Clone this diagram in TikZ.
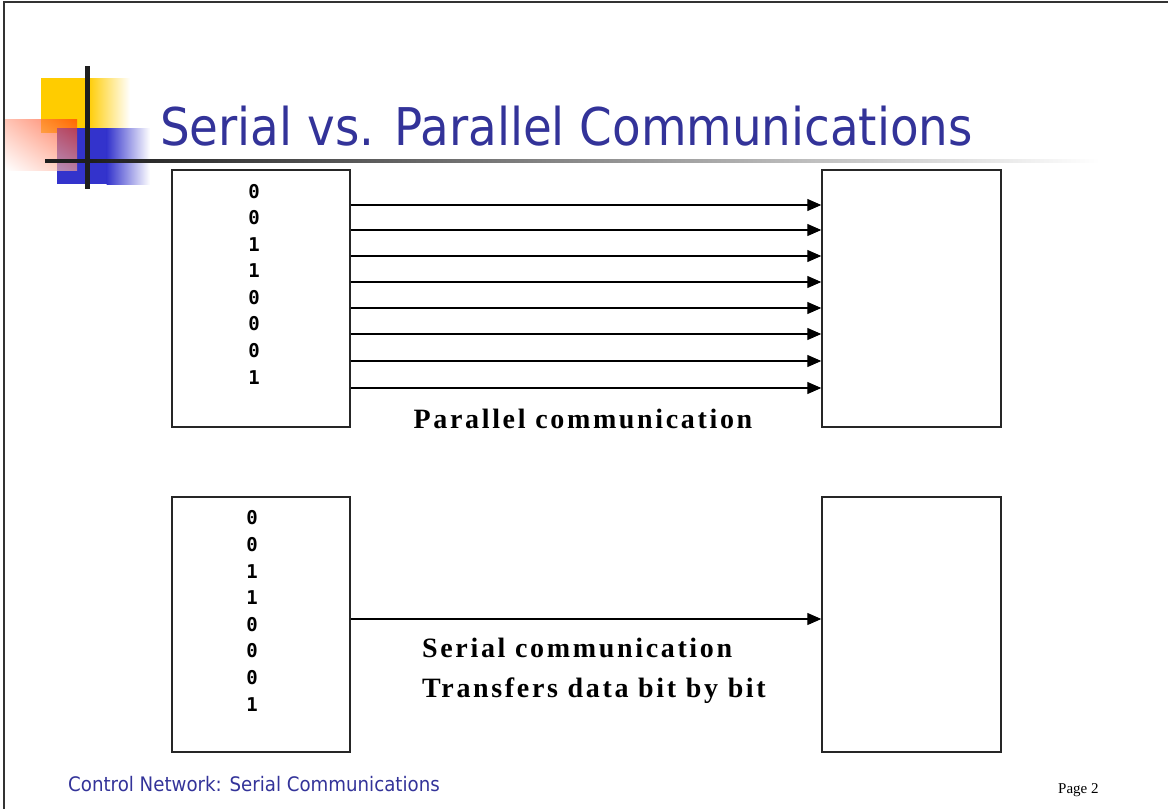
\documentclass[tikz,border=0pt]{standalone}
\usepackage{fontspec}
\setmainfont{DejaVu Sans}
\newfontfamily\labelfont[LetterSpace=9.5]{Liberation Serif}
\newfontfamily\digitfont{DejaVu Sans Mono}
\newfontfamily\timesfont{Liberation Serif}
\usetikzlibrary{arrows.meta,shadings}
\definecolor{titleblue}{HTML}{333399}
\definecolor{logoY}{HTML}{FFCC00}
\definecolor{logoB}{HTML}{3333CC}
\definecolor{logoR}{HTML}{FF3300}
\definecolor{barblack}{HTML}{1E1E1E}
\definecolor{barmid}{HTML}{A4A4A4}
\begin{document}
\begin{tikzpicture}[x=1pt,y=-1pt,
  box/.style={draw=black!85,line width=1.4pt,minimum width=178pt,inner sep=0pt},
  bit/.style={font=\digitfont\bfseries\fontsize{19}{19}\selectfont,inner sep=0pt},
  wire/.style={line width=1.1pt,-{Triangle[length=14pt,width=12pt]}},
  lbl/.style={font=\labelfont\bfseries\fontsize{28}{28}\selectfont,inner sep=0pt}]
\useasboundingbox (0,0) rectangle (1168,809);
% frame
\draw[line width=2pt,black!80] (3,2) -- (1168,2);
\draw[line width=2pt,black!80] (4,1) -- (4,809);
% logo
\fill[logoY] (41,78) rectangle (88,133);
\shade[left color=logoY,right color=white] (87.5,78) rectangle (130,133);
\fill[logoB] (57,128) rectangle (107,184);
\shade[left color=logoB,right color=white] (106.5,128) rectangle (150,184);
\shade[opacity=0.65,upper right=logoR,lower left=white,upper left=logoR!45!white,lower right=logoR!45!white] (5,119) rectangle (77,170);
\fill[barblack] (45,159) rectangle (90.5,162.5);
\shade[left color=barblack,middle color=barmid,right color=white] (90,159) rectangle (1100,162.5);
\fill[barblack] (85,66) rectangle (90,189);
% title
\node[anchor=base west,inner sep=0pt,text=titleblue,font=\fontsize{52}{52}\selectfont,xscale=0.9] (title) at (160,145) {Serial vs. Parallel Communications};
% boxes
\node[box,minimum height=257pt] (tl) at (261,298.5) {};
\node[box,minimum height=257pt,minimum width=179pt] (tr) at (911.5,298.5) {};
\node[box,minimum height=255pt] (bl) at (261,624.5) {};
\node[box,minimum height=255pt,minimum width=179pt] (br) at (911.5,624.5) {};
% parallel bits
\foreach \v/\y [count=\i] in {0/192,0/218,1/245,1/271,0/298,0/324,0/351,1/378}
  \node[bit] (pb\i) at (254,\y) {\v};
\foreach \y [count=\i] in {205,230,256,282,308,334,361,388}{
  \coordinate (ps\i) at (tl.east |- 0,\y);
  \coordinate (pe\i) at (tr.west |- 0,\y);
  \draw[wire] (ps\i) -- (pe\i);
}
% serial bits
\foreach \v/\y [count=\i] in {0/518,0/545,1/572,1/598,0/625,0/651,0/678,1/705}
  \node[bit] (sb\i) at (252,\y) {\v};
\coordinate (ss) at (bl.east |- 0,619);
\coordinate (se) at (br.west |- 0,619);
\draw[wire] (ss) -- (se);
% labels
\node[lbl,anchor=base] (plabel) at (583,428) {Parallel communication};
\node[lbl,anchor=base west] (slabel1) at (422,657) {Serial communication};
\node[lbl,anchor=base west] (slabel2) at (422,697) {Transfers data bit by bit};
% footer
\node[anchor=base west,inner sep=0pt,text=titleblue,font=\fontsize{20}{20}\selectfont,xscale=0.91] (footer) at (68,791) {Control Network: Serial Communications};
\node[anchor=base west,inner sep=0pt,font=\timesfont\fontsize{15}{15}\selectfont] (page) at (1058,793) {Page 2};
\end{tikzpicture}
\end{document}
